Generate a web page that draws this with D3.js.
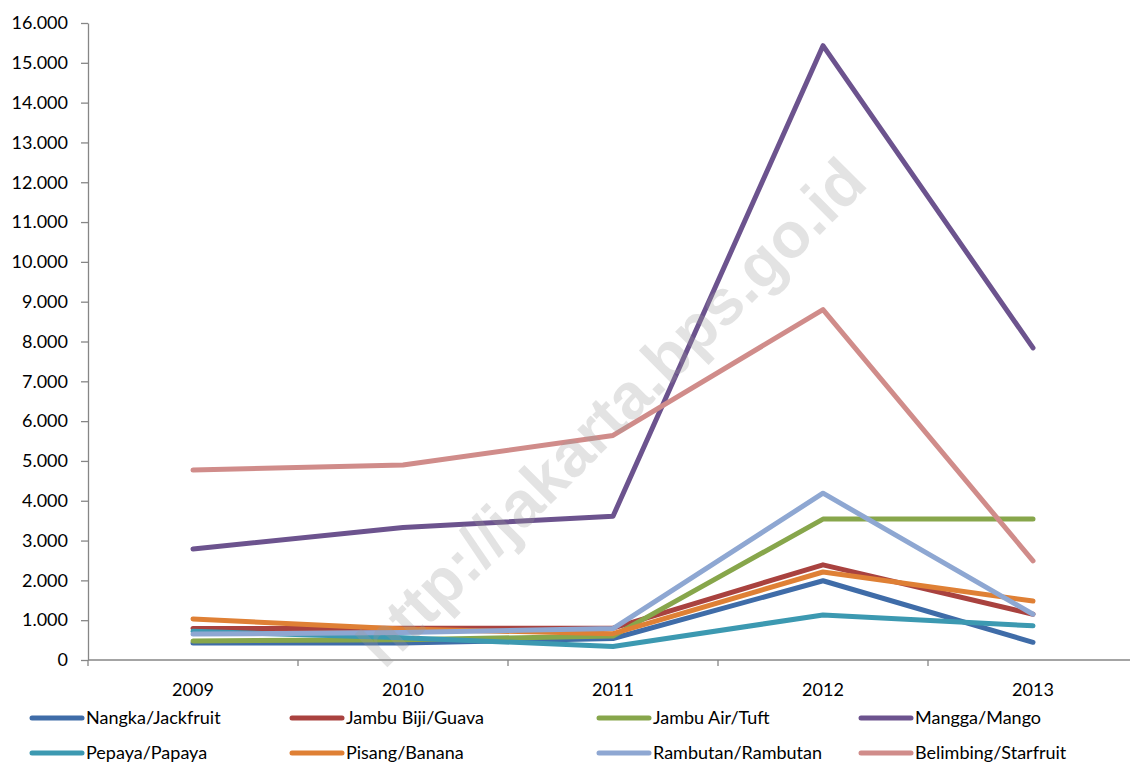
<!DOCTYPE html>
<html>
<head>
<meta charset="utf-8">
<script src="https://cdn.jsdelivr.net/npm/d3@7"></script>
<style>
  body { margin: 0; background: #fff; }
  svg { display: block; font-family: Lato, "Open Sans", sans-serif; }
</style>
</head>
<body>
<div id="chart"></div>
<script>

// Years on the x axis.
var years = ['2009', '2010', '2011', '2012', '2013'];

// Series names, in legend order.
var names = [
  'Nangka/Jackfruit', 'Jambu Biji/Guava', 'Jambu Air/Tuft', 'Mangga/Mango',
  'Pepaya/Papaya', 'Pisang/Banana', 'Rambutan/Rambutan', 'Belimbing/Starfruit'
];

var colors = [
  '#3f6ca8', '#a9423f', '#87a64b', '#6c538e',
  '#3c99b1', '#df8035', '#8ea7d2', '#d08c8a'
];

// Values.
var nangka    = [430, 430, 540, 1990, 445];
var jambuBiji = [790, 800, 800, 2390, 1150];
var jambuAir  = [480, 510, 600, 3540, 3540];
var mangga    = [2790, 3330, 3610, 15430, 7840];
var pepaya    = [720, 560, 340, 1130, 860];
var pisang    = [1030, 780, 660, 2210, 1480];
var rambutan  = [650, 690, 790, 4190, 1150];
var belimbing = [4770, 4900, 5640, 8800, 2490];

var seriesValues = [
  nangka, jambuBiji, jambuAir, mangga, pepaya, pisang, rambutan, belimbing
];

var yTicks = d3.range(0, 16001, 1000);

var W = 1130, H = 765;
var padLeft = 88, padTop = 23, plotW = 1050, plotH = 637;

var svg = d3.select('#chart').append('svg')
  .attr('width', W).attr('height', H);

var x = d3.scaleBand().domain(years).range([padLeft, padLeft + plotW]);
var y = d3.scaleLinear().domain([0, 16000]).range([padTop + plotH, padTop]);

var fmt = function(d) { return d3.format(',')(d).replace(/,/g, '.'); };

// Y axis.
var yAxis = svg.append('g')
  .attr('transform', 'translate(' + padLeft + ',0)')
  .call(d3.axisLeft(y).tickValues(yTicks).tickFormat(fmt)
    .tickSizeInner(7).tickSizeOuter(0).tickPadding(13));
yAxis.select('.domain').attr('stroke', '#868686').attr('stroke-width', 1.3);
yAxis.selectAll('.tick line').attr('stroke', '#868686').attr('stroke-width', 1.3);
yAxis.selectAll('text').attr('font-size', 18).attr('fill', '#000')
  .attr('font-family', 'Lato, sans-serif');

// X axis, with ticks between categories.
var xg = svg.append('g')
  .attr('transform', 'translate(0,' + (padTop + plotH) + ')');
xg.append('line').attr('x1', padLeft).attr('x2', padLeft + plotW)
  .attr('stroke', '#868686').attr('stroke-width', 1.3);
xg.selectAll('line.tk').data(years).enter().append('line')
  .attr('class', 'tk')
  .attr('x1', function(d) { return x(d) + x.bandwidth(); })
  .attr('x2', function(d) { return x(d) + x.bandwidth(); })
  .attr('y1', 0).attr('y2', 6)
  .attr('stroke', '#868686').attr('stroke-width', 1.3);
xg.append('line').attr('x1', padLeft).attr('x2', padLeft)
  .attr('y1', 0).attr('y2', 6)
  .attr('stroke', '#868686').attr('stroke-width', 1.3);
xg.selectAll('text').data(years).enter().append('text')
  .attr('x', function(d) { return x(d) + x.bandwidth() / 2; })
  .attr('y', 36)
  .attr('text-anchor', 'middle')
  .attr('font-size', 18)
  .text(function(d) { return d; });

// Lines.
var line = d3.line()
  .x(function(d, i) { return x(years[i]) + x.bandwidth() / 2; })
  .y(function(d) { return y(d); });

svg.append('g').selectAll('path').data(seriesValues).enter().append('path')
  .attr('d', line)
  .attr('fill', 'none')
  .attr('stroke', function(d, i) { return colors[i]; })
  .attr('stroke-width', 5)
  .attr('stroke-linecap', 'round')
  .attr('stroke-linejoin', 'round');

// Watermark.
svg.append('text')
  .attr('transform', 'translate(615,416) rotate(-45)')
  .attr('text-anchor', 'middle')
  .attr('dominant-baseline', 'middle')
  .attr('font-family', 'Liberation Sans, Arial, sans-serif')
  .attr('font-weight', 'bold')
  .attr('font-size', 64)
  .attr('fill', '#999')
  .attr('fill-opacity', 0.28)
  .text('http://jakarta.bps.go.id');

// Legend, 4 columns by 2 rows.
var colX = [32, 292, 599, 861];
var rowY = [718, 753];
var legend = svg.append('g').selectAll('g').data(names).enter().append('g')
  .attr('transform', function(d, i) {
    return 'translate(' + colX[i % 4] + ',' + rowY[Math.floor(i / 4)] + ')';
  });
legend.append('line')
  .attr('x1', 0).attr('x2', 50)
  .attr('stroke', function(d, i) { return colors[i]; })
  .attr('stroke-width', 5)
  .attr('stroke-linecap', 'round');
legend.append('text')
  .attr('x', 54).attr('dy', '0.35em')
  .attr('font-size', 18)
  .text(function(d) { return d; });

</script>
</body>
</html>
